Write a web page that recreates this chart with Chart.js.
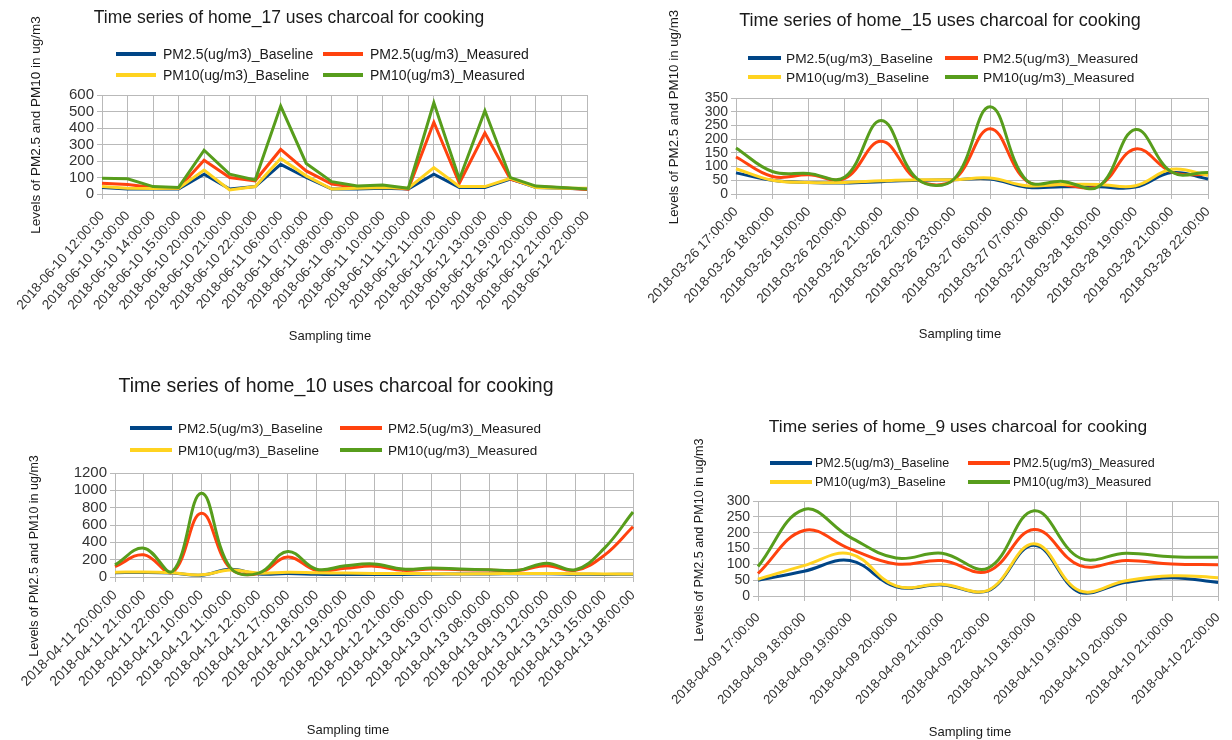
<!DOCTYPE html>
<html>
<head>
<meta charset="utf-8">
<script src="https://cdn.jsdelivr.net/npm/chart.js@4.4.1/dist/chart.umd.min.js"></script>
<style>
  html, body { margin: 0; padding: 0; background: #ffffff; }
  body { width: 1232px; height: 740px; position: relative; overflow: hidden; }
  canvas { position: absolute; }
</style>
</head>
<body>
<canvas id="home17"></canvas>
<canvas id="home15"></canvas>
<canvas id="home10"></canvas>
<canvas id="home9"></canvas>
<script>
// ---- series names and colours shared by all four charts ----
const SERIES_NAMES = ['PM2.5(ug/m3)_Baseline', 'PM2.5(ug/m3)_Measured', 'PM10(ug/m3)_Baseline', 'PM10(ug/m3)_Measured'];
const SERIES_COLORS = ['#004586', '#ff420e', '#ffd320', '#579d1c'];

// ---- home_17 ----
const home17Times = ['2018-06-10 12:00:00', '2018-06-10 13:00:00', '2018-06-10 14:00:00', '2018-06-10 15:00:00', '2018-06-10 20:00:00', '2018-06-10 21:00:00', '2018-06-10 22:00:00', '2018-06-11 06:00:00', '2018-06-11 07:00:00', '2018-06-11 08:00:00', '2018-06-11 09:00:00', '2018-06-11 10:00:00', '2018-06-11 11:00:00', '2018-06-12 11:00:00', '2018-06-12 12:00:00', '2018-06-12 13:00:00', '2018-06-12 19:00:00', '2018-06-12 20:00:00', '2018-06-12 21:00:00', '2018-06-12 22:00:00'];
const home17Pm25Baseline = [40, 30, 30, 30, 120, 30, 45, 180, 100, 30, 30, 35, 30, 120, 40, 40, 90, 40, 35, 30];
const home17Pm25Measured = [65, 58, 40, 35, 205, 100, 80, 270, 140, 60, 40, 45, 30, 435, 65, 370, 90, 45, 38, 28];
const home17Pm10Baseline = [45, 35, 33, 35, 145, 25, 45, 215, 110, 30, 35, 40, 35, 160, 45, 45, 95, 40, 35, 35];
const home17Pm10Measured = [95, 92, 45, 40, 265, 120, 85, 533, 185, 75, 48, 55, 35, 553, 90, 505, 99, 48, 40, 30];

// ---- home_15 ----
const home15Times = ['2018-03-26 17:00:00', '2018-03-26 18:00:00', '2018-03-26 19:00:00', '2018-03-26 20:00:00', '2018-03-26 21:00:00', '2018-03-26 22:00:00', '2018-03-26 23:00:00', '2018-03-27 06:00:00', '2018-03-27 07:00:00', '2018-03-27 08:00:00', '2018-03-28 18:00:00', '2018-03-28 19:00:00', '2018-03-28 21:00:00', '2018-03-28 22:00:00'];
const home15Pm25Baseline = [77, 50, 42, 40, 45, 50, 52, 55, 25, 26, 26, 25, 78, 55];
const home15Pm25Measured = [135, 64, 70, 57, 192, 52, 52, 238, 48, 34, 30, 164, 80, 70];
const home15Pm10Baseline = [92, 50, 42, 42, 48, 52, 52, 58, 30, 35, 35, 30, 90, 68];
const home15Pm10Measured = [168, 82, 75, 62, 268, 54, 54, 318, 50, 46, 28, 235, 80, 78];

// ---- home_10 ----
const home10Times = ['2018-04-11 20:00:00', '2018-04-11 21:00:00', '2018-04-11 22:00:00', '2018-04-12 10:00:00', '2018-04-12 11:00:00', '2018-04-12 12:00:00', '2018-04-12 17:00:00', '2018-04-12 18:00:00', '2018-04-12 19:00:00', '2018-04-12 20:00:00', '2018-04-12 21:00:00', '2018-04-13 06:00:00', '2018-04-13 07:00:00', '2018-04-13 08:00:00', '2018-04-13 09:00:00', '2018-04-13 12:00:00', '2018-04-13 13:00:00', '2018-04-13 15:00:00', '2018-04-13 18:00:00'];
const home10Pm25Baseline = [50, 52, 45, 20, 88, 35, 40, 32, 28, 30, 30, 32, 35, 36, 38, 38, 32, 30, 32];
const home10Pm25Measured = [120, 256, 54, 735, 100, 40, 230, 75, 100, 125, 77, 92, 84, 80, 75, 130, 77, 250, 580];
const home10Pm10Baseline = [55, 58, 48, 25, 80, 45, 55, 50, 45, 40, 40, 38, 35, 38, 40, 40, 38, 35, 35];
const home10Pm10Measured = [140, 333, 65, 965, 110, 45, 295, 90, 130, 150, 92, 103, 92, 84, 77, 160, 84, 330, 750];

// ---- home_9 ----
const home9Times = ['2018-04-09 17:00:00', '2018-04-09 18:00:00', '2018-04-09 19:00:00', '2018-04-09 20:00:00', '2018-04-09 21:00:00', '2018-04-09 22:00:00', '2018-04-10 18:00:00', '2018-04-10 19:00:00', '2018-04-10 20:00:00', '2018-04-10 21:00:00', '2018-04-10 22:00:00'];
const home9Pm25Baseline = [50, 78, 112, 29, 35, 16, 160, 11, 43, 58, 43];
const home9Pm25Measured = [71, 207, 149, 101, 112, 78, 210, 96, 112, 101, 99];
const home9Pm10Baseline = [53, 96, 133, 32, 37, 18, 165, 16, 48, 64, 58];
const home9Pm10Measured = [93, 273, 186, 120, 135, 88, 269, 120, 135, 124, 122];

// ---- axis ranges ----
const home17Axis = { max: 600, step: 100 };
const home15Axis = { max: 350, step: 50 };
const home10Axis = { max: 1200, step: 200 };
const home9Axis = { max: 300, step: 50 };

const FONT = "'Liberation Sans', Arial, sans-serif";
const Y_TITLE = 'Levels of PM2.5 and PM10 in ug/m3';
const X_TITLE = 'Sampling time';

// Title, two-column legend and axis titles, placed in page coordinates.
const panelText = {
  id: 'panelText',
  afterDraw(chart, args, o) {
    const ctx = chart.ctx;
    const ox = o.box.x, oy = o.box.y;
    ctx.save();
    ctx.fillStyle = '#1a1a1a';
    ctx.textBaseline = 'middle';

    ctx.font = o.title.size + 'px ' + FONT;
    ctx.textAlign = 'center';
    ctx.fillText(o.title.text, o.title.x - ox, o.title.y - oy);

    ctx.font = o.legend.size + 'px ' + FONT;
    ctx.textAlign = 'left';
    chart.data.datasets.forEach((ds, i) => {
      const row = Math.floor(i / 2), col = i % 2;
      const lx = o.legend.cols[col] - ox, ly = o.legend.rows[row] - oy;
      ctx.strokeStyle = ds.borderColor;
      ctx.lineWidth = o.legend.lineWidth;
      ctx.beginPath();
      ctx.moveTo(lx, ly);
      ctx.lineTo(lx + o.legend.line, ly);
      ctx.stroke();
      ctx.fillStyle = '#1a1a1a';
      ctx.fillText(ds.label, lx + o.legend.line + o.legend.gap, ly + 1);
    });

    ctx.font = o.yTitle.size + 'px ' + FONT;
    ctx.textAlign = 'center';
    ctx.save();
    ctx.translate(o.yTitle.x - ox, o.yTitle.y - oy);
    ctx.rotate(-Math.PI / 2);
    ctx.fillText(Y_TITLE, 0, 0);
    ctx.restore();

    ctx.font = o.xTitle.size + 'px ' + FONT;
    ctx.fillText(X_TITLE, o.xTitle.x - ox, o.xTitle.y - oy);
    ctx.restore();
  }
};

function buildChart(id, cfg) {
  const cv = document.getElementById(id);
  const b = cfg.box, a = cfg.area;
  cv.width = b.w; cv.height = b.h;
  cv.style.left = b.x + 'px'; cv.style.top = b.y + 'px';
  cv.style.width = b.w + 'px'; cv.style.height = b.h + 'px';

  const datasets = cfg.series.map((vals, i) => ({
    label: SERIES_NAMES[i],
    data: vals,
    borderColor: SERIES_COLORS[i],
    backgroundColor: SERIES_COLORS[i],
    borderWidth: 3,
    pointRadius: 0,
    tension: cfg.tension,
    fill: false,
    order: 3 - i
  }));

  const gridColor = '#b9b9b9';
  return new Chart(cv, {
    type: 'line',
    data: { labels: cfg.labels, datasets },
    plugins: [panelText],
    options: {
      responsive: false,
      animation: false,
      devicePixelRatio: 1,
      layout: { padding: { left: 0, top: a.t - b.y, right: b.x + b.w - a.r, bottom: 0 } },
      plugins: {
        legend: { display: false },
        title: { display: false },
        tooltip: { enabled: false },
        panelText: {
          box: b, title: cfg.title, legend: cfg.legend, yTitle: cfg.yTitle, xTitle: cfg.xTitle
        }
      },
      scales: {
        x: {
          type: 'category',
          offset: false,
          grid: { color: gridColor, lineWidth: 1, tickLength: 5, drawTicks: true },
          border: { color: gridColor, width: 1 },
          ticks: {
            autoSkip: false, maxRotation: cfg.xTickAngle, minRotation: cfg.xTickAngle, padding: cfg.xTickPad,
            color: '#333333', font: { family: FONT, size: cfg.xTickSize }
          },
          afterFit(s) { s.height = b.y + b.h - a.b; s.paddingLeft = 0; s.paddingRight = 0; }
        },
        y: {
          min: 0, max: cfg.axis.max,
          grid: { color: gridColor, lineWidth: 1, tickLength: 5, drawTicks: true },
          border: { color: gridColor, width: 1 },
          ticks: {
            stepSize: cfg.axis.step, padding: 3, autoSkip: false,
            color: '#333333', font: { family: FONT, size: cfg.yTickSize },
            callback: (v) => String(v)
          },
          afterFit(s) { s.width = a.l - b.x; s.paddingTop = 0; s.paddingBottom = 0; }
        }
      }
    }
  });
}

buildChart('home17', {
  labels: home17Times,
  series: [home17Pm25Baseline, home17Pm25Measured, home17Pm10Baseline, home17Pm10Measured],
  axis: home17Axis, tension: 0,
  box: { x: 0, y: 0, w: 616, h: 350 }, area: { l: 102, r: 587, t: 95, b: 194 },
  title: { text: 'Time series of home_17 uses charcoal for cooking', x: 289, y: 18, size: 17.5 },
  legend: { rows: [54, 75], cols: [116, 323], line: 40, gap: 7, lineWidth: 4, size: 14 },
  yTitle: { x: 36, y: 125, size: 13.5 }, xTitle: { x: 330, y: 336, size: 13 },
  xTickSize: 13.5, xTickPad: 9, xTickAngle: 49, yTickSize: 15
});

buildChart('home15', {
  labels: home15Times,
  series: [home15Pm25Baseline, home15Pm25Measured, home15Pm10Baseline, home15Pm10Measured],
  axis: home15Axis, tension: 0.4,
  box: { x: 616, y: 0, w: 616, h: 350 }, area: { l: 736, r: 1208, t: 98, b: 194 },
  title: { text: 'Time series of home_15 uses charcoal for cooking', x: 940, y: 21, size: 18 },
  legend: { rows: [58, 77], cols: [748, 945], line: 33, gap: 5, lineWidth: 4, size: 13.7 },
  yTitle: { x: 674, y: 117, size: 13.3 }, xTitle: { x: 960, y: 334, size: 13 },
  xTickSize: 13.5, xTickPad: 5, xTickAngle: 47, yTickSize: 14
});

buildChart('home10', {
  labels: home10Times,
  series: [home10Pm25Baseline, home10Pm25Measured, home10Pm10Baseline, home10Pm10Measured],
  axis: home10Axis, tension: 0.4,
  box: { x: 0, y: 360, w: 650, h: 380 }, area: { l: 115, r: 633, t: 473, b: 577 },
  title: { text: 'Time series of home_10 uses charcoal for cooking', x: 336, y: 387, size: 19.5 },
  legend: { rows: [428, 450], cols: [130, 340], line: 42, gap: 6, lineWidth: 4, size: 13.5 },
  yTitle: { x: 35, y: 556, size: 12.5 }, xTitle: { x: 348, y: 730, size: 13 },
  xTickSize: 14, xTickPad: 5, xTickAngle: 45, yTickSize: 15
});

buildChart('home9', {
  labels: home9Times,
  series: [home9Pm25Baseline, home9Pm25Measured, home9Pm10Baseline, home9Pm10Measured],
  axis: home9Axis, tension: 0.4,
  box: { x: 640, y: 380, w: 592, h: 360 }, area: { l: 758, r: 1218, t: 501, b: 596 },
  title: { text: 'Time series of home_9 uses charcoal for cooking', x: 958, y: 427, size: 17.4 },
  legend: { rows: [463, 482], cols: [770, 968], line: 42, gap: 3, lineWidth: 4, size: 12.5 },
  yTitle: { x: 700, y: 540, size: 12.6 }, xTitle: { x: 970, y: 732, size: 13 },
  xTickSize: 13, xTickPad: 9, xTickAngle: 46, yTickSize: 14
});
</script>
</body>
</html>
